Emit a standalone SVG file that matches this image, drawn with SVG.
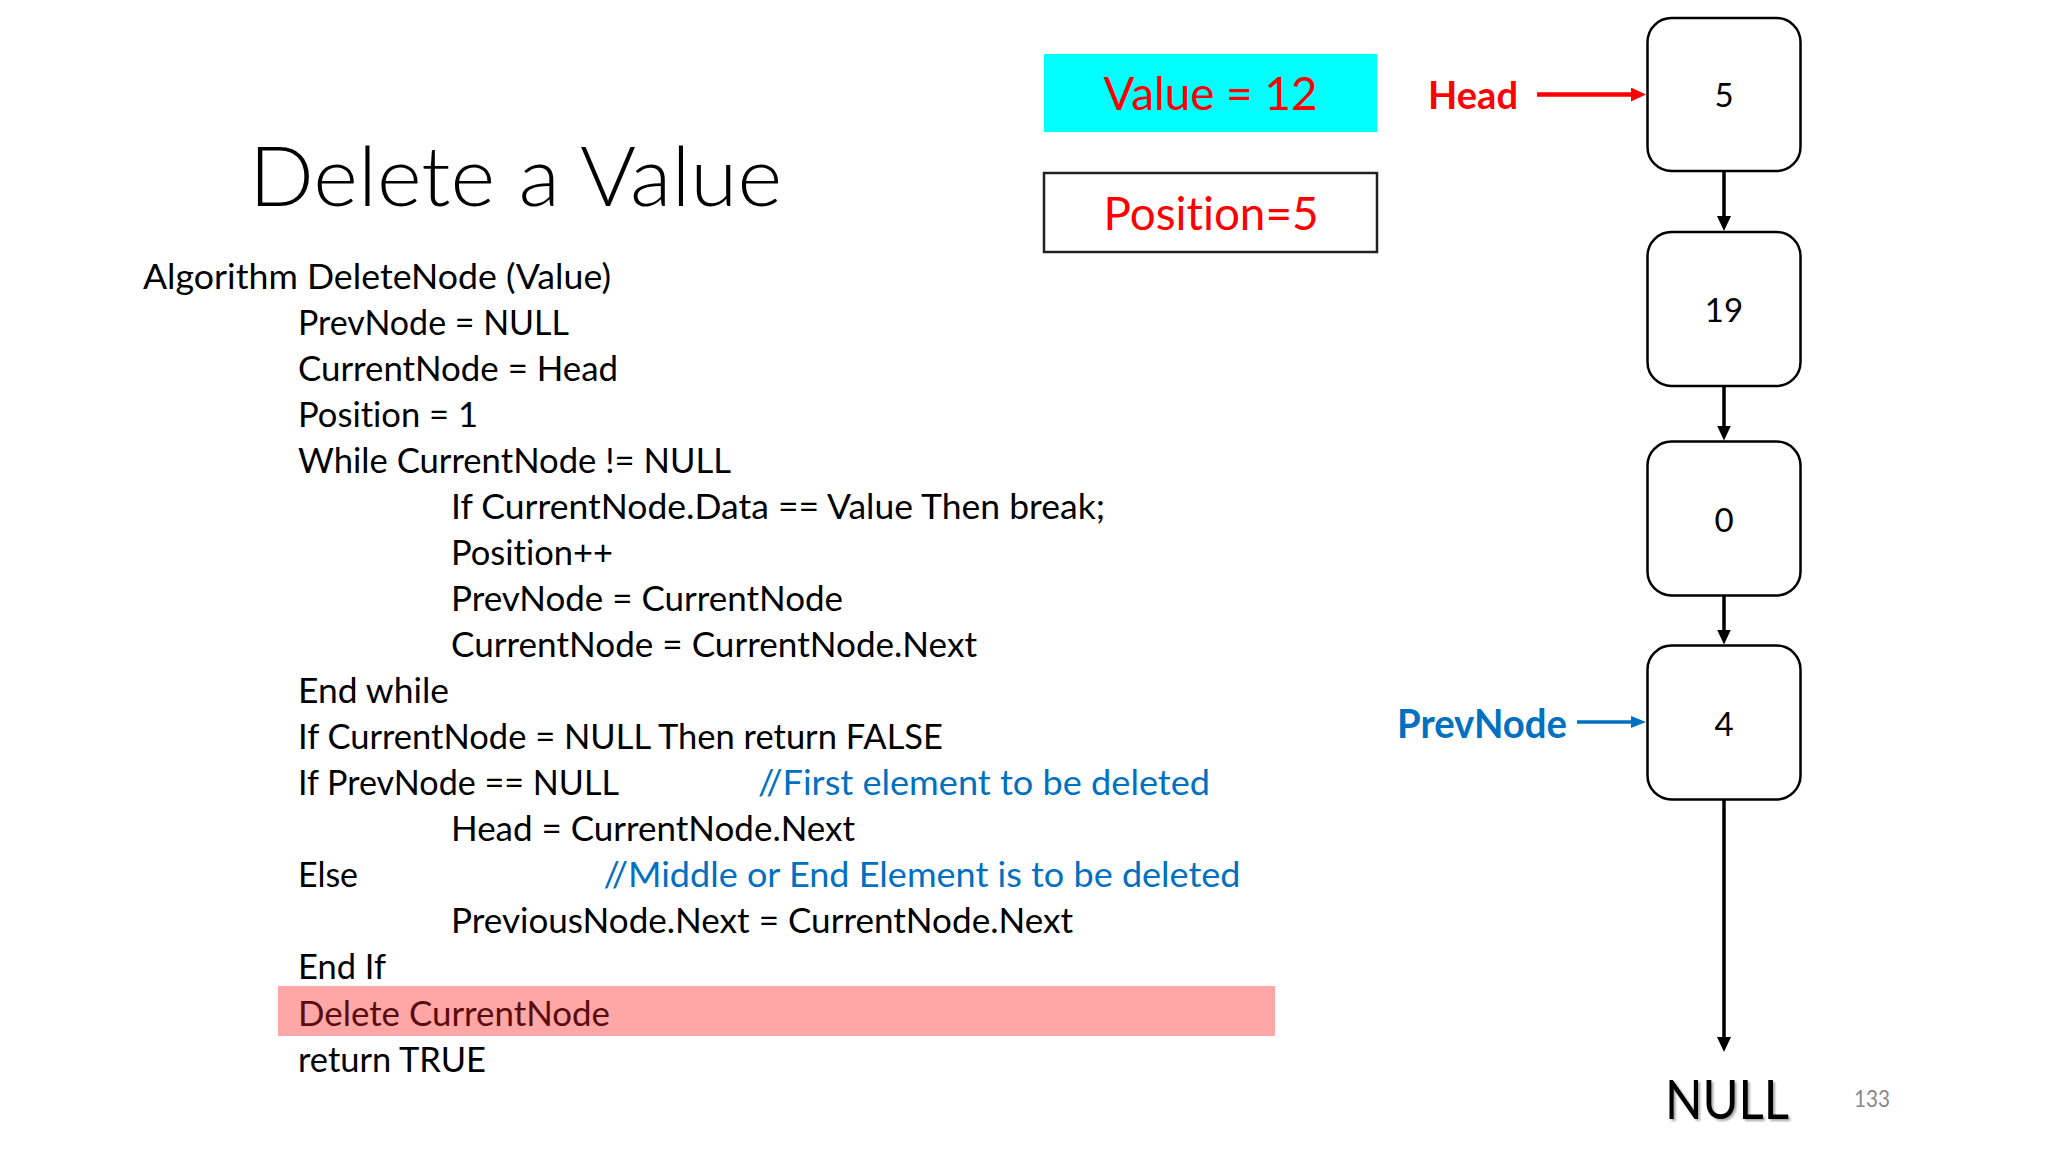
<svg xmlns="http://www.w3.org/2000/svg" width="2048" height="1152" viewBox="0 0 2048 1152">
<defs>
<style>
text{font-variant-ligatures:none;font-feature-settings:"liga" 0}
.code{font-family:Lato,"Open Sans","Liberation Sans",sans-serif;font-size:35px;fill:#000}
.cmt{fill:#0070C0}
.title{font-family:Lato,"Open Sans","Liberation Sans",sans-serif;font-weight:300;font-size:82px;fill:#000}
.red{font-family:Lato,"Open Sans","Liberation Sans",sans-serif;font-size:46px;fill:#FF0000}
.lbl{font-family:Lato,"Open Sans","Liberation Sans",sans-serif;font-weight:700}
.node rect{fill:#fff;stroke:#000;stroke-width:2.5}
.node text{font-family:Lato,"Open Sans","Liberation Sans",sans-serif;font-size:33px;fill:#000;text-anchor:middle}
.conn line{fill:none}
</style>
<marker id="ahB" markerUnits="userSpaceOnUse" viewBox="0 0 15 14" refX="1" refY="7" markerWidth="15" markerHeight="14" orient="auto"><path d="M0,0 L15,7 L0,14 z" fill="#000"/></marker>
<marker id="ahR" markerUnits="userSpaceOnUse" viewBox="0 0 15 14" refX="1" refY="7" markerWidth="15" markerHeight="14" orient="auto"><path d="M0,0 L15,7 L0,14 z" fill="#FF0000"/></marker>
<marker id="ahU" markerUnits="userSpaceOnUse" viewBox="0 0 15 12" refX="1" refY="6" markerWidth="15" markerHeight="12" orient="auto"><path d="M0,0 L15,6 L0,12 z" fill="#0070C0"/></marker>
<filter id="sh" x="-10%" y="-10%" width="130%" height="140%"><feDropShadow dx="2" dy="2" stdDeviation="1.2" flood-color="#000" flood-opacity="0.35"/></filter>
</defs>
<rect width="2048" height="1152" fill="#fff"/>

<g id="title"><text class="title" x="249" y="206" textLength="533" lengthAdjust="spacingAndGlyphs">Delete a Value</text></g>

<g id="code">
<rect x="278" y="986" width="997" height="50" fill="#FFA6A6"/>
<text class="code" x="143" y="288.5" textLength="468" lengthAdjust="spacingAndGlyphs">Algorithm DeleteNode (Value)</text>
<text class="code" x="298" y="334.5" textLength="271" lengthAdjust="spacingAndGlyphs">PrevNode = NULL</text>
<text class="code" x="298" y="380.5" textLength="320" lengthAdjust="spacingAndGlyphs">CurrentNode = Head</text>
<text class="code" x="298" y="426.5" textLength="180" lengthAdjust="spacingAndGlyphs">Position = 1</text>
<text class="code" x="298" y="472.5" textLength="433" lengthAdjust="spacingAndGlyphs">While CurrentNode != NULL</text>
<text class="code" x="451" y="518.5" textLength="654" lengthAdjust="spacingAndGlyphs">If CurrentNode.Data == Value Then break;</text>
<text class="code" x="451" y="564.5" textLength="162" lengthAdjust="spacingAndGlyphs">Position++</text>
<text class="code" x="451" y="610.5" textLength="392" lengthAdjust="spacingAndGlyphs">PrevNode = CurrentNode</text>
<text class="code" x="451" y="656.5" textLength="526" lengthAdjust="spacingAndGlyphs">CurrentNode = CurrentNode.Next</text>
<text class="code" x="298" y="702.5" textLength="151" lengthAdjust="spacingAndGlyphs">End while</text>
<text class="code" x="298" y="748.5" textLength="645" lengthAdjust="spacingAndGlyphs">If CurrentNode = NULL Then return FALSE</text>
<text class="code" x="298" y="795" textLength="321" lengthAdjust="spacingAndGlyphs">If PrevNode == NULL</text>
<text class="code cmt" x="758" y="795" textLength="452" lengthAdjust="spacingAndGlyphs">//First element to be deleted</text>
<text class="code" x="451" y="841" textLength="404" lengthAdjust="spacingAndGlyphs">Head = CurrentNode.Next</text>
<text class="code" x="298" y="887" textLength="60" lengthAdjust="spacingAndGlyphs">Else</text>
<text class="code cmt" x="603.5" y="887" textLength="637" lengthAdjust="spacingAndGlyphs">//Middle or End Element is to be deleted</text>
<text class="code" x="451" y="933" textLength="622" lengthAdjust="spacingAndGlyphs">PreviousNode.Next = CurrentNode.Next</text>
<text class="code" x="298" y="979" textLength="88" lengthAdjust="spacingAndGlyphs">End If</text>
<text class="code" x="298" y="1025.5" textLength="312" lengthAdjust="spacingAndGlyphs" style="fill:#5A0B0B">Delete CurrentNode</text>
<text class="code" x="298" y="1071.5" textLength="188" lengthAdjust="spacingAndGlyphs">return TRUE</text>
</g>

<g id="value-box">
<rect x="1044" y="54" width="333" height="78" fill="#00FFFF"/>
<text class="red" x="1210.5" y="110" text-anchor="middle" textLength="214" lengthAdjust="spacingAndGlyphs">Value = 12</text>
</g>
<g id="position-box">
<rect x="1044" y="173" width="333" height="79" fill="#fff" stroke="#222" stroke-width="2.5"/>
<text class="red" x="1211" y="229.5" text-anchor="middle" textLength="215" lengthAdjust="spacingAndGlyphs">Position=5</text>
</g>

<g id="head-label"><text class="lbl" x="1428" y="109" font-size="38" fill="#FF0000" textLength="90" lengthAdjust="spacingAndGlyphs">Head</text></g>
<g id="prevnode-label"><text class="lbl" x="1397" y="737.5" font-size="40" fill="#0070C0" textLength="170" lengthAdjust="spacingAndGlyphs">PrevNode</text></g>

<g id="node-5" class="node"><rect x="1647.5" y="18" width="153" height="153" rx="24"/><text x="1724" y="107">5</text></g>
<g id="node-19" class="node"><rect x="1647.5" y="232" width="153" height="154" rx="24"/><text x="1724" y="322">19</text></g>
<g id="node-0" class="node"><rect x="1647.5" y="441.5" width="153" height="154" rx="24"/><text x="1724" y="531.5">0</text></g>
<g id="node-4" class="node"><rect x="1647.5" y="645.5" width="153" height="154" rx="24"/><text x="1724" y="735.5">4</text></g>

<g id="null-label"><text x="1665" y="1119" font-family="Lato,'Open Sans','Liberation Sans',sans-serif" font-size="54" fill="#000" textLength="124" lengthAdjust="spacingAndGlyphs" filter="url(#sh)">NULL</text></g>
<g id="page-number"><text x="1854" y="1107" font-family="Lato,'Open Sans','Liberation Sans',sans-serif" font-size="22.5" fill="#898989" textLength="36" lengthAdjust="spacingAndGlyphs">133</text></g>

<g id="connectors" class="conn">
<line x1="1537" y1="94.5" x2="1632" y2="94.5" stroke="#FF0000" stroke-width="4.5" marker-end="url(#ahR)"/>
<line x1="1577" y1="722" x2="1632" y2="722" stroke="#0070C0" stroke-width="3.5" marker-end="url(#ahU)"/>
<line x1="1724" y1="171" x2="1724" y2="217" stroke="#000" stroke-width="3.5" marker-end="url(#ahB)"/>
<line x1="1724" y1="386" x2="1724" y2="426.5" stroke="#000" stroke-width="3.5" marker-end="url(#ahB)"/>
<line x1="1724" y1="595.5" x2="1724" y2="630.5" stroke="#000" stroke-width="3.5" marker-end="url(#ahB)"/>
<line x1="1724" y1="799.5" x2="1724" y2="1038" stroke="#000" stroke-width="3.5" marker-end="url(#ahB)"/>
</g>
</svg>
